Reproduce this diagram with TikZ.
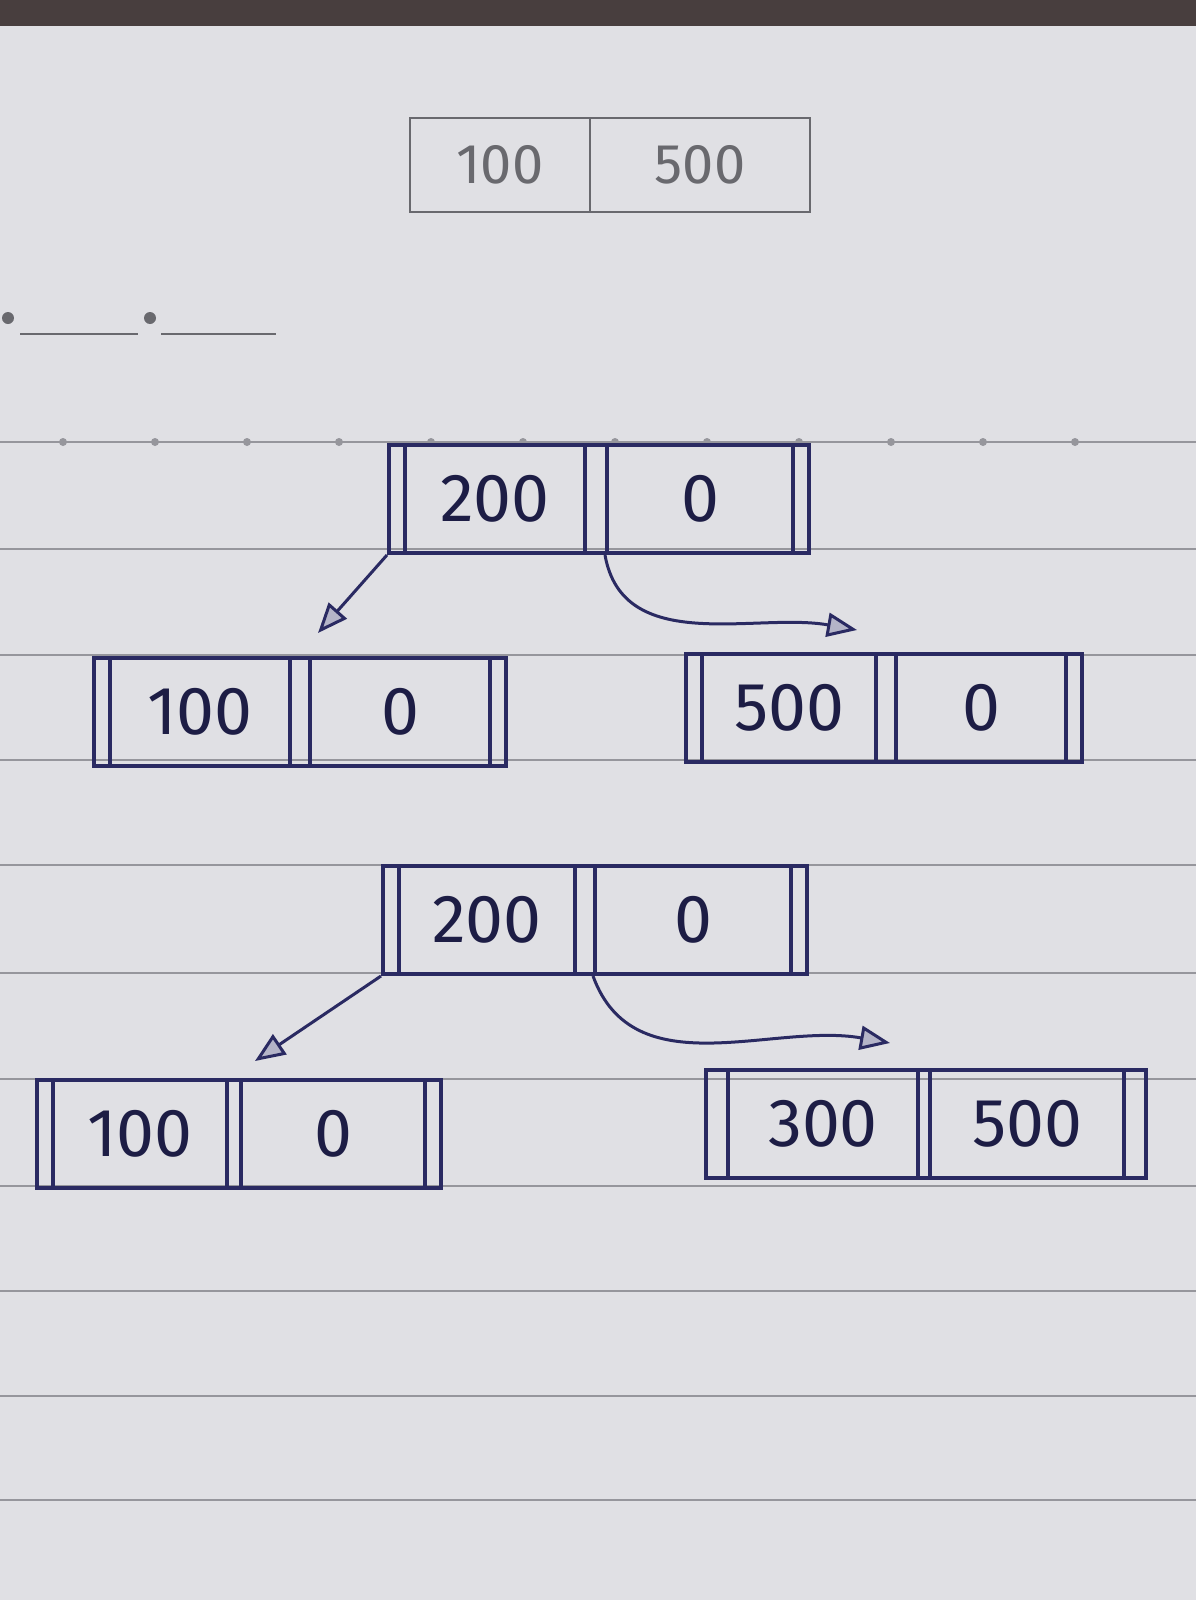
\documentclass[tikz,border=0pt]{standalone}
\usepackage{fontspec}
\setmainfont{Fira Sans}
\usepackage{tikz}
\usetikzlibrary{positioning,fit,arrows.meta}
\definecolor{paper}{RGB}{224,224,228}
\definecolor{rule}{RGB}{150,150,156}
\definecolor{ink}{RGB}{42,42,98}
\definecolor{pencil}{RGB}{105,105,110}
\definecolor{tabletop}{RGB}{72,62,62}

\begin{document}
\begin{tikzpicture}[
    x=0.5pt, y=-0.5pt,
    cell/.style={rectangle, draw=ink, line width=2pt, minimum width=90pt, minimum height=54pt, inner sep=0pt, text=ink!70!black, font=\fontsize{34}{36}\selectfont},
    sketch/.style={rectangle, draw=pencil, line width=1pt, minimum height=47pt, inner sep=0pt, text=pencil, font=\fontsize{28}{30}\selectfont},
    nodeframe/.style={rectangle, draw=ink, line width=2pt, inner xsep=7pt, inner ysep=-1pt},
    link/.style={draw=ink, line width=1.5pt, -{Triangle[length=15pt, width=12pt, fill=ink!35]}}
]

% page
\fill[paper] (0,0) rectangle (1196,1600);
\useasboundingbox (0,0) rectangle (1196,1600);
\fill[tabletop] (0,0) rectangle (1196,26);
\foreach \y in {442,549,655,760,865,973,1079,1186,1291,1396,1500}
    \draw[rule, line width=0.6pt] (0,\y) -- (1196,\y);
\foreach \x in {63,155,...,1145}
    \fill[rule] (\x,442) circle (2pt);

% blanks
\fill[pencil] (8,318) circle (3pt);
\draw[pencil, line width=1pt] (20,334) -- (138,334);
\fill[pencil] (150,318) circle (3pt);
\draw[pencil, line width=1pt] (161,334) -- (276,334);

% first sketch
\node[sketch, minimum width=90pt] (topa) at (500,165) {100};
\node[sketch, right=-1pt of topa, minimum width=110pt] (topb) {500};

% tree one
\node[cell] (r1a) at (495,499) {200};
\node[cell, right=9pt of r1a, minimum width=93pt] (r1b) {0};
\node[nodeframe, fit=(r1a)(r1b)] (r1) {};

\node[cell] (l1a) at (200,712) {100};
\node[cell, right=8pt of l1a] (l1b) {0};
\node[nodeframe, fit=(l1a)(l1b)] (l1) {};

\node[cell, minimum width=87pt] (m1a) at (789,708) {500};
\node[cell, right=8pt of m1a, minimum width=85pt] (m1b) {0};
\node[nodeframe, fit=(m1a)(m1b)] (m1) {};

\coordinate (t1a) at (318,633);
\coordinate (t1b) at (857,630);
\draw[link] (r1.south west) -- (t1a);
\draw[link] (r1b.south west) to[out=-80, in=170] (t1b);

% tree two
\node[cell, minimum width=88pt] (r2a) at (487,920) {200};
\node[cell, right=8pt of r2a, minimum width=98pt] (r2b) {0};
\node[nodeframe, fit=(r2a)(r2b)] (r2) {};

\node[cell, minimum width=87pt] (l2a) at (140,1134) {100};
\node[cell, right=5pt of l2a, minimum width=92pt] (l2b) {0};
\node[nodeframe, fit=(l2a)(l2b)] (l2) {};

\node[cell, minimum width=95pt] (m2a) at (823,1124) {300};
\node[cell, right=4pt of m2a, minimum width=97pt] (m2b) {500};
\node[nodeframe, inner xsep=10pt, fit=(m2a)(m2b)] (m2) {};

\coordinate (t2a) at (255,1061);
\coordinate (t2b) at (890,1043);
\draw[link] (r2.south west) -- (t2a);
\draw[link] (r2b.south west) to[out=-70, in=170] (t2b);

\end{tikzpicture}
\end{document}
